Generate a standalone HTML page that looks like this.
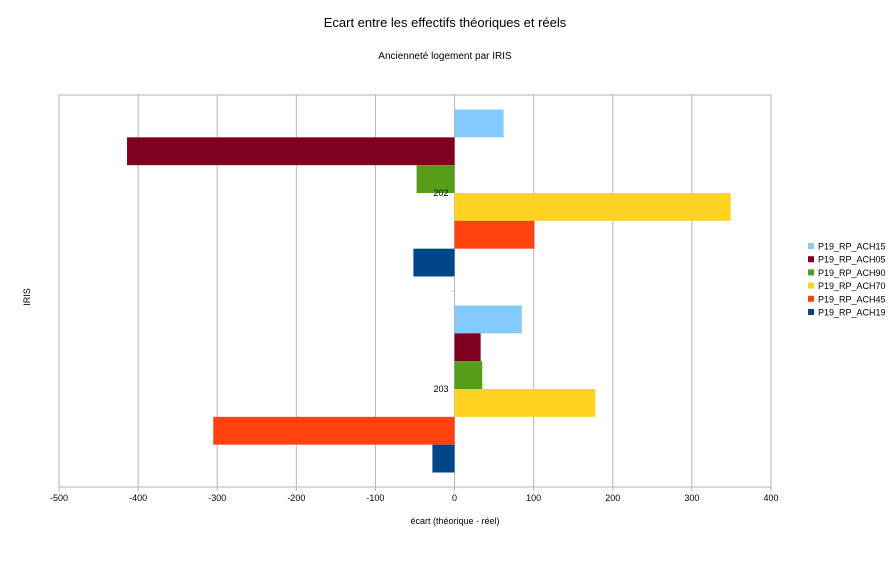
<!DOCTYPE html>
<html><head><meta charset="utf-8"><style>
body{margin:0;background:#fff;font-family:"Liberation Sans",sans-serif;}
</style></head><body>
<svg id="chart" width="891" height="561" xmlns="http://www.w3.org/2000/svg" font-family="Liberation Sans, sans-serif">
<rect width="891" height="561" fill="#fff"/>
<text x="445" y="27" text-anchor="middle" font-size="13">Ecart entre les effectifs théoriques et réels</text>
<text x="445" y="59" text-anchor="middle" font-size="10">Ancienneté logement par IRIS</text>
<text x="455" y="524" text-anchor="middle" font-size="9">écart (théorique - réel)</text>
<text transform="translate(30,297) rotate(-90)" text-anchor="middle" font-size="9">IRIS</text>
<g id="grid"></g><g id="bars"></g><g id="labels"></g><g id="legend"></g>
</svg>
<script>
const categories = ["202","203"];
const seriesNames = ["P19_RP_ACH15","P19_RP_ACH05","P19_RP_ACH90","P19_RP_ACH70","P19_RP_ACH45","P19_RP_ACH19"];
const ach15 = [62, 85];
const ach05 = [-414, 33];
const ach90 = [-48, 35];
const ach70 = [349, 178];
const ach45 = [101, -305];
const ach19 = [-52, -28];
const xTicks = [-500,-400,-300,-200,-100,0,100,200,300,400];
const colors = ["#83caff","#7e0021","#579d1c","#ffd320","#ff420e","#004586"];
const series = [ach15, ach05, ach90, ach70, ach45, ach19];
const NS = "http://www.w3.org/2000/svg";
const L=59,R=771,T=95,B=487;
const x = v => L + (v - (-500)) / 900 * (R - L);
const band = (B - T) / categories.length;
const barH = band * 0.852 / series.length;
function mk(tag, attrs, parent){const e=document.createElementNS(NS,tag);for(const k in attrs)e.setAttribute(k,attrs[k]);document.getElementById(parent).appendChild(e);return e;}
xTicks.forEach(t=>{
  const g=mk("line",{x1:x(t),x2:x(t),y1:T,y2:B+4,stroke:"#b3b3b3","stroke-width":1},"grid");
  
  
  const tx=mk("text",{x:x(t),y:B+14,"text-anchor":"middle","font-size":9},"labels");
  tx.textContent=t;
  
  
});
const fr=mk("rect",{x:L,y:T,width:R-L,height:B-T,fill:"none",stroke:"#b3b3b3"},"grid");


categories.forEach((c,ci)=>{
  const y0=T+ci*band+(band-barH*series.length)/2;
  series.forEach((s,si)=>{
    const v=s[ci];
    const r=mk("rect",{x:Math.min(x(0),x(v)),y:y0+si*barH,width:Math.abs(x(v)-x(0)),height:barH,fill:colors[si]},"bars");
    
    
  });
  const lb=mk("text",{x:x(0)-6,y:T+ci*band+band/2+3,"text-anchor":"end","font-size":9},"labels");
  lb.textContent=c;
  
  
});
const tk=mk("line",{x1:x(0)-2,x2:x(0),y1:T+band,y2:T+band,stroke:"#b3b3b3"},"grid");


seriesNames.forEach((n,i)=>{
  const y=243+i*13.2;
  const sq=mk("rect",{x:808,y:y,width:6,height:6,fill:colors[i]},"legend");
  
  
  const t=mk("text",{x:818,y:y+6.5,"font-size":9},"legend");
  t.textContent=n;
  
  
});
</script>
</body></html>
